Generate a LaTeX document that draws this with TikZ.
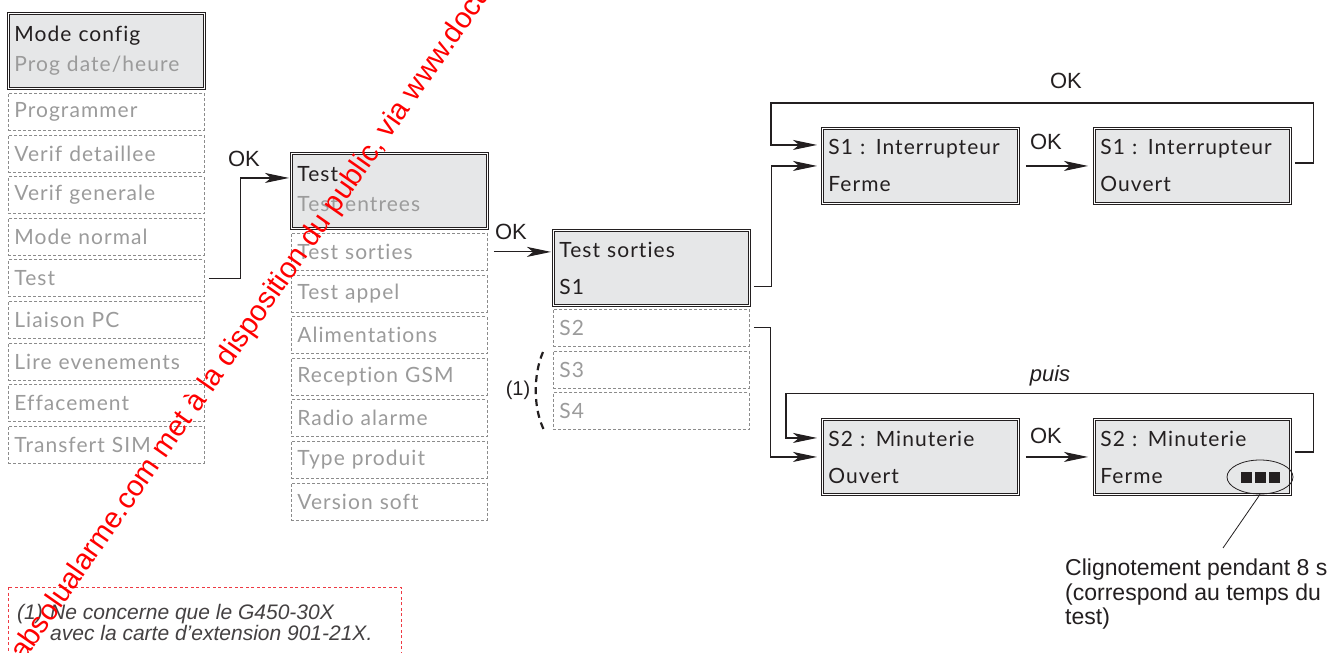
\documentclass[tikz,border=0pt]{standalone}
\usepackage{fontspec}
\setmainfont{Lato}[LetterSpace=5, Ligatures=NoCommon]
\newfontfamily\arialf{Liberation Sans}
\usetikzlibrary{arrows.meta,shapes.geometric}
\definecolor{boxfill}{HTML}{E6E7E8}
\definecolor{txtgray}{HTML}{9B9B9B}
\definecolor{dashgray}{HTML}{8C8C8C}
\definecolor{txtdark}{HTML}{231F20}
\definecolor{wmred}{HTML}{FF0000}
\definecolor{fnred}{HTML}{EE3A43}
\tikzset{
  boxbase/.style={anchor=north west, inner sep=0pt, minimum width=196pt, text width=184pt, align=left},
  hdrbox/.style={boxbase, draw=txtdark, line width=0.9pt, double=white, double distance=1.4pt, fill=boxfill, minimum height=75pt, text=txtdark, font=\fontsize{21}{30}\selectfont},
  dispbox/.style={hdrbox, font=\fontsize{21}{37}\selectfont},
  itembox/.style={boxbase, draw=dashgray, line width=0.8pt, dash pattern=on 3pt off 2pt, minimum height=37pt, text=txtgray, font=\fontsize{21}{24}\selectfont},
  conn/.style={draw=txtdark, line width=1.1pt},
  arr/.style={conn, -{Stealth[length=24pt, width=10pt, inset=6pt]}},
  lbl/.style={font=\arialf\fontsize{22}{26}\selectfont, text=txtdark, inner sep=0pt},
}
\begin{document}
\begin{tikzpicture}[x=1pt,y=-1pt]
\useasboundingbox (0,0) rectangle (1339,653);
\fill[white] (0,0) rectangle (1339,653);

% column 1
\node[hdrbox] (mc) at (8,13) {Mode config\\\textcolor{txtgray}{Prog date/heure}};
\foreach \t [count=\i from 0] in {Programmer,Verif detaillee,Verif generale,Mode normal,Test,Liaison PC,Lire evenements,Effacement,Transfert SIM}
  \node[itembox] (a\i) at (8,{93+41.6*\i}) {\t};

% column 2
\node[hdrbox] (tb) at (291,153) {Test\\\textcolor{txtgray}{Test entrees\vphantom{g}}};
\foreach \t [count=\i from 0] in {Test sorties,Test appel,Alimentations,Reception GSM,Radio alarme,Type produit,Version soft}
  \node[itembox] (b\i) at (291,{233+41.6*\i}) {\t};

% column 3
\node[dispbox] (ts) at (553,230) {Test sorties\\S1};
\foreach \t [count=\i from 0] in {S2,S3,S4}
  \node[itembox] (c\i) at (553,{309+41.6*\i}) {\t};

% displays
\node[dispbox] (s1f) at (822,128) {S1 : Interrupteur\\Ferme};
\node[dispbox] (s1o) at (1094,128) {S1 : Interrupteur\\Ouvert};
\node[dispbox] (s2o) at (822,419) {S2 : Minuterie\\Ouvert};
\node[dispbox] (s2f) at (1094,419) {S2 : Minuterie\\Ferme};

% connectors
\draw[arr, shorten >=2pt] ([xshift=4pt]a4.east) -- ++(32,0) |- ([yshift=13pt]tb.west);
\node[lbl] (ok1) at (244,159) {OK};

\draw[arr, shorten >=2pt] ([xshift=6pt]b0.east) -- (b0.east -| ts.west);
\node[lbl] (ok2) at (511,232) {OK};

\draw[arr, shorten >=5pt] ([xshift=4pt,yshift=-18.5pt]ts.east) -- ++(18,0) |- (s1f.west);
\draw[arr, shorten >=5pt] ([xshift=4pt,yshift=3pt]s1o.east) -- ++(19,0) -- ++(0,-60) -| ([xshift=-51pt,yshift=21pt]s1f.west) -- ([yshift=21pt]s1f.west);
\node[lbl] (ok3) at (1066,81) {OK};
\draw[arr, shorten >=6pt] ([xshift=7pt]s1f.east) -- (s1o.west);
\node[lbl] (ok4) at (1046,142) {OK};

\draw[arr, shorten >=5pt] ([xshift=4pt]c0.east) -- ++(17,0) |- (s2o.west);
\draw[arr, shorten >=5pt] ([xshift=4pt,yshift=5pt]s2f.east) -- ++(19,0) -- ++(0,-58.5) -| ([xshift=-36pt,yshift=19pt]s2o.west) -- ([yshift=19pt]s2o.west);
\node[lbl, font=\arialf\itshape\fontsize{22}{26}\selectfont] (puis) at (1050,376) {puis};
\draw[arr, shorten >=6pt] ([xshift=7pt]s2f.west -| s2o.east) -- (s2f.west);
\node[lbl] (ok5) at (1046,436) {OK};

% bracket (1)
\draw[txtdark, line width=2.2pt, dash pattern=on 7pt off 5pt] (543,352) .. controls (533,375) and (533,410) .. (545,432);
\node[lbl, font=\arialf\fontsize{20}{24}\selectfont] (n1) at (518,390) {(1)};

% blinking squares and callout
\foreach \k in {0,1,2}
  \fill[txtdark] ({1241+14*\k},471.5) rectangle ++(11,11);
\node[draw=txtdark, ellipse, line width=0.8pt, minimum width=66pt, minimum height=34pt, inner sep=0pt] (el) at (1260,477) {};
\node[anchor=north west, inner sep=0pt, align=left, text=txtdark, font=\arialf\fontsize{23}{24.5}\selectfont] (ann) at (1065,559) {Clignotement pendant 8 s\\(correspond au temps du\\test)};
\coordinate (ld) at (1223,548);
\draw[txtdark, line width=0.8pt] (el.south) -- (ld);

% footnote
\draw[fnred, line width=0.8pt, dash pattern=on 3pt off 2.5pt] (8,587) rectangle (401,680);
\node[anchor=north west, inner sep=0pt, align=left, text=txtdark!85, font=\arialf\itshape\fontsize{21}{21.5}\selectfont] (fn) at (17,604) {\makebox[33pt][l]{(1)}Ne concerne que le G450-30X\\\hspace*{33pt}avec la carte d’extension 901-21X.};

% watermark
\node[anchor=base west, inner sep=0pt, rotate=55, text=wmred, font=\arialf\fontsize{29.2}{32}\selectfont] (wm) at (24,662) {absolualarme.com met à la disposition du public, via www.docu};
\end{tikzpicture}
\end{document}
